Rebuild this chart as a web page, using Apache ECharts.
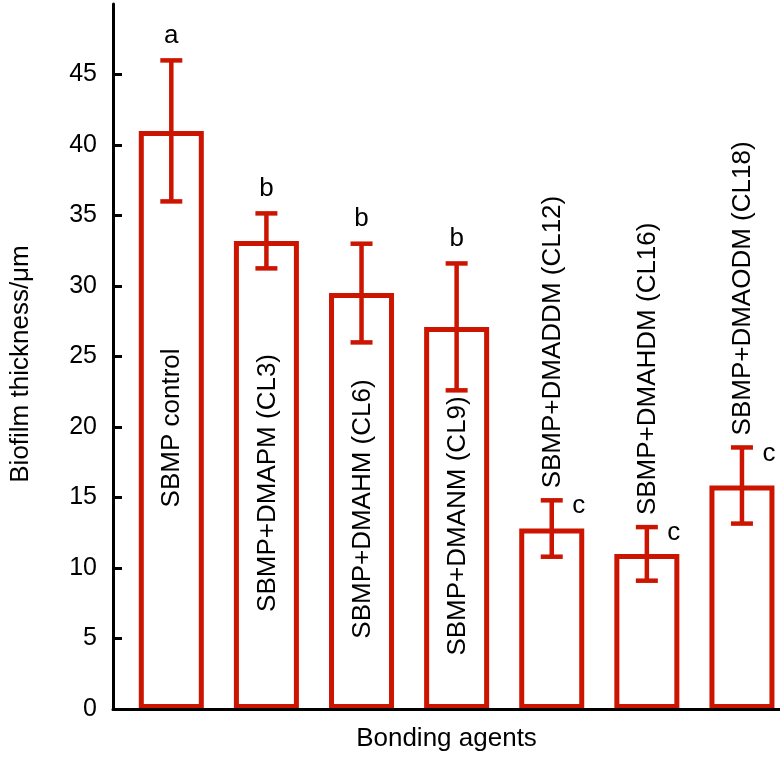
<!DOCTYPE html>
<html>
<head>
<meta charset="utf-8">
<script src="https://cdn.jsdelivr.net/npm/echarts@6/dist/echarts.min.js"></script>
<style>
html,body{margin:0;padding:0;background:#fff;}
#chart{width:780px;height:757px;}
</style>
</head>
<body>
<div id="chart"></div>
<script>
const categories = ['SBMP control','SBMP+DMAPM (CL3)','SBMP+DMAHM (CL6)','SBMP+DMANM (CL9)','SBMP+DMADDM (CL12)','SBMP+DMAHDM (CL16)','SBMP+DMAODM (CL18)'];
const means = [41.0, 33.2, 29.5, 27.1, 12.8, 11.0, 15.85];
const errors = [5.0, 1.95, 3.5, 4.5, 2.0, 1.9, 2.7];
const letters = ['a','b','b','b','c','c','c'];
const yMin = 0, yMax = 50, yStep = 5;
const yTitle = 'Biofilm thickness/\u03bcm';
const xTitle = 'Bonding agents';

const RED = '#cc1500';
const FONT_FAMILY = '"Liberation Sans", Arial, Helvetica, sans-serif';
const FS = 26;
const FONT = FS + 'px ' + FONT_FAMILY;

const measureCtx = document.createElement('canvas').getContext('2d');
measureCtx.font = FONT;
function textWidth(t){ return measureCtx.measureText(t).width; }

const barData = means.map((m, i) => [i, m]);
const errData = means.map((m, i) => [i, m, errors[i]]);

const chart = echarts.init(document.getElementById('chart'), null, {renderer:'canvas'});
chart.setOption({
  animation: false,
  backgroundColor: '#fff',
  grid: {left: 111, right: 0, top: 4, bottom: 46, containLabel: false},
  xAxis: {
    type: 'value', min: -0.613, max: 6.40,
    z: 5,
    name: xTitle, nameLocation: 'middle', nameGap: 17,
    nameTextStyle: {fontSize: FS, fontFamily: FONT_FAMILY, color: '#000', verticalAlign: 'top'},
    axisLine: {show: true, onZero: false, lineStyle: {color: '#000', width: 3}},
    axisTick: {show: false}, axisLabel: {show: false}, splitLine: {show: false}
  },
  yAxis: {
    type: 'value', min: yMin, max: yMax, interval: yStep,
    z: 5,
    name: yTitle, nameLocation: 'middle', nameGap: 79,
    nameTextStyle: {fontSize: FS, fontFamily: FONT_FAMILY, color: '#000', padding: [0, 15, 0, 0]},
    axisLine: {show: true, onZero: false, lineStyle: {color: '#000', width: 3}},
    axisTick: {show: true, inside: true, length: 9, lineStyle: {color: '#000', width: 3}},
    axisLabel: {fontSize: 25, fontFamily: FONT_FAMILY, color: '#000', margin: 16, showMaxLabel: false,
      formatter: v => (v >= yMax ? '' : String(v))},
    splitLine: {show: false}
  },
  series: [
    {
      type: 'bar', data: barData, barWidth: 65,
      itemStyle: {color: '#fff', borderColor: RED, borderWidth: 5},
      z: 2
    },
    {
      type: 'custom', data: errData, z: 3, clip: false,
      renderItem: function(params, api){
        const i = api.value(0), m = api.value(1), e = api.value(2);
        const top = api.coord([i, m + e]);
        const bot = api.coord([i, m - e]);
        const mid = api.coord([i, m]);
        const base = api.coord([i, 0]);
        const cap = 11;
        const ls = {stroke: RED, lineWidth: 4.5};
        const label = categories[params.dataIndex];
        const tw = textWidth(label);
        const fitsInside = (base[1] - mid[1]) > tw + 40;
        const children = [
          {type:'line', shape:{x1: top[0], y1: top[1], x2: bot[0], y2: bot[1]}, style: ls},
          {type:'line', shape:{x1: top[0]-cap, y1: top[1], x2: top[0]+cap, y2: top[1]}, style: ls},
          {type:'line', shape:{x1: bot[0]-cap, y1: bot[1], x2: bot[0]+cap, y2: bot[1]}, style: ls}
        ];
        if (fitsInside) {
          children.push({type:'text', x: top[0], y: top[1] - 12,
            style:{text: letters[params.dataIndex], font: FONT, fill:'#000', align:'center', verticalAlign:'bottom'}});
          children.push({type:'text', x: mid[0] + 1, y: (mid[1] + base[1]) / 2 + 8, rotation: Math.PI/2,
            style:{text: label, font: FONT, fill:'#000', align:'center', verticalAlign:'middle'}});
        } else {
          children.push({type:'text', x: top[0] + 27, y: top[1] + 6,
            style:{text: letters[params.dataIndex], font: FONT, fill:'#000', align:'center', verticalAlign:'middle'}});
          children.push({type:'text', x: top[0] + 1, y: top[1] - 12, rotation: Math.PI/2,
            style:{text: label, font: FONT, fill:'#000', align:'left', verticalAlign:'middle'}});
        }
        return {type:'group', children: children};
      }
    }
  ]
});
</script>
</body>
</html>
